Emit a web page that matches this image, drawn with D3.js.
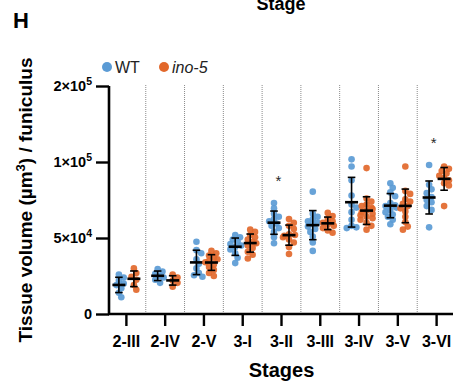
<!DOCTYPE html>
<html>
<head>
<meta charset="utf-8">
<script src="https://cdn.jsdelivr.net/npm/d3@7"></script>
<style>
  html, body { margin: 0; padding: 0; background: #fff; }
  svg { display: block; font-family: "Liberation Sans", Arial, sans-serif; }
</style>
</head>
<body>
<svg id="chart" width="453" height="385"></svg>
<script>
// Developmental stages on the x axis
const stages = ["2-III", "2-IV", "2-V", "3-I", "3-II", "3-III", "3-IV", "3-V", "3-VI"];

// Tissue volume per funiculus (µm³), one array per stage
const wtValues = [
  [26000, 24000, 22000, 20000, 19000, 17000, 14000, 11000],
  [29500, 28000, 26500, 25000, 24000, 22500, 20500],
  [47500, 42000, 40000, 36000, 33000, 30000, 27000, 25500, 24500],
  [52000, 50500, 49000, 47500, 46000, 45000, 44000, 42500, 40000, 37000, 33500],
  [73000, 69500, 66000, 64000, 62500, 61000, 59500, 58000, 56500, 54000, 50500, 46500],
  [80500, 66000, 64000, 62500, 61000, 60000, 59000, 57500, 56000, 54000, 51000, 47000, 41500],
  [103500, 97000, 88000, 78000, 70000, 72000, 67000, 62000, 58000, 57000, 56500],
  [86000, 83000, 80000, 77500, 73000, 71000, 71500, 70000, 68500, 67000, 65500, 64000, 62000, 59000],
  [98000, 85000, 82000, 79500, 77000, 75000, 73500, 71000, 68500, 57000]
];
const ino5Values = [
  [30000, 27000, 24500, 22500, 19000, 16000],
  [26000, 24000, 22000, 20500, 18000],
  [41500, 40000, 38500, 37000, 36000, 35000, 34000, 32500, 31000, 29000, 27000, 25000],
  [55500, 54000, 52000, 50500, 49000, 47500, 46500, 45000, 43500, 41000, 39000, 36500],
  [62500, 60000, 58000, 56000, 52000, 52500, 51500, 50500, 49000, 47000, 44000, 39500],
  [66500, 64500, 62500, 61000, 60000, 59000, 58000, 56500, 55000, 53500],
  [96000, 76000, 74000, 72000, 71000, 70000, 69000, 68000, 67000, 66000, 65000, 64000, 63000, 62000, 60000, 58000, 55500],
  [97000, 81000, 79000, 75500, 74000, 72500, 71000, 69500, 67500, 64000, 60500, 57500, 55500],
  [97000, 95500, 94000, 92500, 91000, 89500, 88000, 86000, 84500, 71000]
];

// Stages marked as significant
const significantStages = ["3-II", "3-VI"];

// Y axis ticks: segmented axis (0–1×10⁵, then 1×10⁵–2×10⁵ compressed)
const yTicks = [0, 5e4, 1e5, 2e5];

const seriesNames = ["WT", "ino-5"];
const seriesColors = ["#5B9BD5", "#E2682B"];

const svg = d3.select("#chart");

const x = d3.scaleBand().domain(stages).range([107, 456]).padding(0);
const y = d3.scaleLinear().domain([0, 1e5, 2e5]).range([314, 162, 86]);

const groupOffset = [-7.5, 7.5];
const dotR = 3.3;

// dotted separators between stages
svg.append("g")
  .selectAll("line")
  .data(stages.slice(1))
  .join("line")
  .attr("x1", d => x(d)).attr("x2", d => x(d))
  .attr("y1", 85).attr("y2", 314)
  .attr("stroke", "#8a8a8a")
  .attr("stroke-width", 1)
  .attr("stroke-dasharray", "1,1");

// simple beeswarm placement: spread points that would overlap
function swarm(values, cx) {
  const placed = [];
  const sorted = values.map(v => ({ v, py: y(v) })).sort((a, b) => a.py - b.py);
  const step = 2.4;
  sorted.forEach(p => {
    let best = 0;
    for (let k = 0; k < 20; k++) {
      const cand = k === 0 ? [0] : [k * step, -k * step];
      let ok = null;
      for (const c of cand) {
        const clash = placed.some(q => Math.hypot(q.px - (cx + c), q.py - p.py) < dotR * 1.5);
        if (!clash) { ok = c; break; }
      }
      if (ok !== null) { best = ok; break; }
    }
    placed.push({ v: p.v, px: cx + Math.max(-6, Math.min(6, best)), py: p.py });
  });
  return placed;
}

const seriesData = [wtValues, ino5Values];

seriesData.forEach((series, si) => {
  series.forEach((vals, ci) => {
    const cx = x(stages[ci]) + x.bandwidth() / 2 + groupOffset[si];
    const pts = swarm(vals, cx);
    svg.append("g")
      .selectAll("circle")
      .data(pts)
      .join("circle")
      .attr("cx", d => d.px)
      .attr("cy", d => d.py)
      .attr("r", dotR)
      .attr("fill", seriesColors[si])
      .attr("fill-opacity", 0.92);

    const m = d3.mean(vals);
    const sd = d3.deviation(vals);
    const g = svg.append("g").attr("stroke", "#000");
    g.append("line")
      .attr("x1", cx).attr("x2", cx)
      .attr("y1", y(m + sd)).attr("y2", y(m - sd))
      .attr("stroke-width", 1.6);
    [m + sd, m - sd].forEach(v => {
      g.append("line")
        .attr("x1", cx - 3.8).attr("x2", cx + 3.8)
        .attr("y1", y(v)).attr("y2", y(v))
        .attr("stroke-width", 1.6);
    });
    g.append("line")
      .attr("x1", cx - 6.5).attr("x2", cx + 6.5)
      .attr("y1", y(m)).attr("y2", y(m))
      .attr("stroke-width", 2.6);
  });
});

// significance stars
significantStages.forEach(s => {
  const ci = stages.indexOf(s);
  const top = d3.max([...wtValues[ci], ...ino5Values[ci]]);
  svg.append("text")
    .attr("x", x(s) + x.bandwidth() / 2 - 3)
    .attr("y", y(top) - 17)
    .attr("text-anchor", "middle")
    .attr("font-size", 15)
    .attr("fill", "#2a2a2a")
    .text("*");
});

// Y axis
const yAxis = svg.append("g")
  .attr("transform", "translate(109,0)")
  .call(d3.axisLeft(y).tickValues(yTicks).tickSize(13).tickFormat(""));
yAxis.select(".domain").attr("stroke-width", 2.6).attr("d", "M0,86V314");
yAxis.selectAll(".tick line").attr("stroke-width", 2.4);

yTicks.forEach(v => {
  const t = svg.append("text")
    .attr("x", 92)
    .attr("y", y(v) + 5)
    .attr("text-anchor", "end")
    .attr("font-size", 14.5)
    .attr("font-weight", "bold")
    .attr("fill", "#000");
  if (v === 0) {
    t.text("0");
  } else {
    const exp = Math.floor(Math.log10(v));
    const mant = Math.round(v / Math.pow(10, exp));
    t.append("tspan").text(mant + "×10");
    t.append("tspan").attr("dy", -6).attr("font-size", 10.5).text(exp);
  }
});

// X axis
const xAxis = svg.append("g")
  .attr("transform", "translate(0,314)")
  .call(d3.axisBottom(x).tickSize(12).tickSizeOuter(0));
xAxis.select(".domain").attr("stroke-width", 2.6).attr("d", "M108,0H453");
xAxis.selectAll(".tick line").attr("stroke-width", 2.4);
xAxis.selectAll(".tick text")
  .attr("y", 22)
  .attr("dy", "0.71em")
  .attr("font-size", 16)
  .attr("font-weight", "bold")
  .attr("font-family", "Liberation Sans, Arial, sans-serif")
  .attr("fill", "#000");

// axis titles
svg.append("text")
  .attr("x", 281.5).attr("y", 377)
  .attr("text-anchor", "middle")
  .attr("font-size", 20).attr("font-weight", "bold")
  .text("Stages");

const yt = svg.append("text")
  .attr("transform", "translate(32,200) rotate(-90)")
  .attr("text-anchor", "middle")
  .attr("font-size", 19).attr("font-weight", "bold");
yt.append("tspan").text("Tissue volume (µm");
yt.append("tspan").attr("dy", -7).attr("font-size", 13).text("3");
yt.append("tspan").attr("dy", 7).text(") / funiculus");

// panel letter and top title
svg.append("text")
  .attr("x", 13).attr("y", 28)
  .attr("font-size", 22).attr("font-weight", "bold")
  .text("H");

svg.append("text")
  .attr("x", 281).attr("y", 10)
  .attr("text-anchor", "middle")
  .attr("font-size", 18).attr("font-weight", "bold")
  .text("Stage");

// legend
const legendX = [107, 164];
seriesNames.forEach((name, i) => {
  svg.append("circle")
    .attr("cx", legendX[i]).attr("cy", 67).attr("r", 5)
    .attr("fill", seriesColors[i]);
  svg.append("text")
    .attr("x", legendX[i] + 8).attr("y", 72.5)
    .attr("font-size", 16)
    .attr("font-style", i === 1 ? "italic" : "normal")
    .attr("fill", "#222")
    .text(name);
});
</script>
</body>
</html>
